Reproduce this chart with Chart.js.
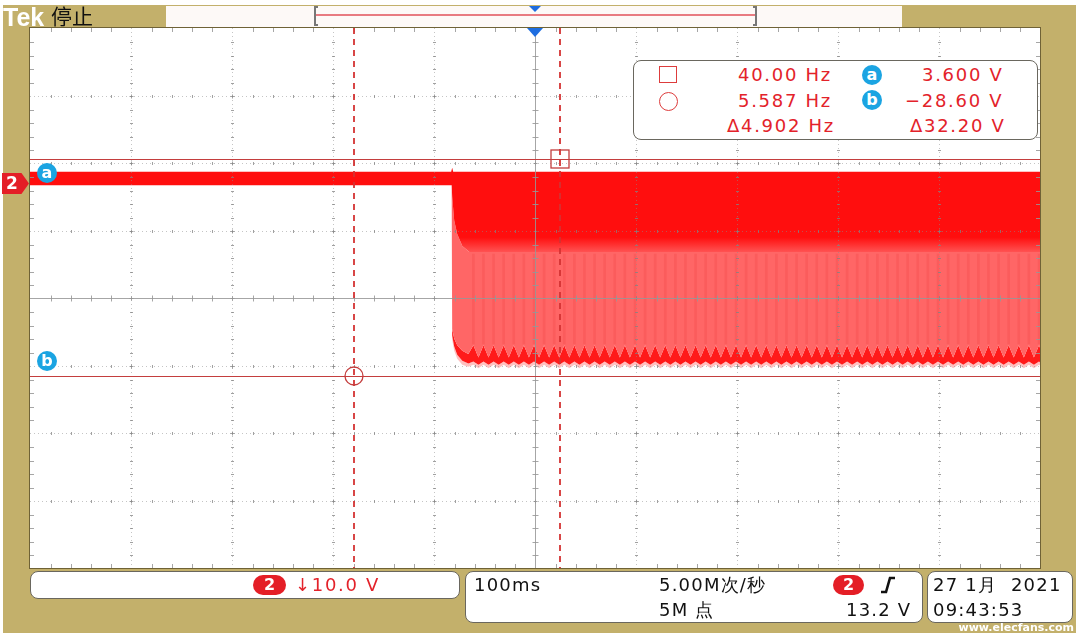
<!DOCTYPE html>
<html>
<head>
<meta charset="utf-8">
<title>Tek 停止</title>
<script src="https://cdn.jsdelivr.net/npm/chart.js@4.4.1/dist/chart.umd.min.js"></script>
<style>
  html, body { margin: 0; padding: 0; background: #fff; }
  #scope { position: relative; width: 1080px; height: 638px; overflow: hidden; font-family: "DejaVu Sans", sans-serif; }
  #scope canvas { position: absolute; left: 0; top: 0; }
  .box { position: absolute; background: #fff; border: 1.5px solid #6a675e; border-radius: 8px; box-sizing: border-box; }
  .t { position: absolute; white-space: nowrap; line-height: 1; }
  .rd { color: #e3222a; font-size: 18px; letter-spacing: 1.7px; }
  .bk { color: #111; font-size: 18px; letter-spacing: 1.2px; }
  .ball { position: absolute; width: 20px; height: 20px; border-radius: 50%; background: #1ba4e2; color: #fff; font: bold 16px/19px "DejaVu Sans", sans-serif; text-align: center; }
  .pill { position: absolute; height: 20px; background: #e41e26; color: #fff; border-radius: 10px; font: bold 16px/20px "DejaVu Sans", sans-serif; text-align: center; }
</style>
</head>
<body>
<div id="scope">
  <canvas id="c" width="1080" height="638"></canvas>

  <div class="t" style="left:3px;top:5px;font:bold 25px/1 'Liberation Sans',sans-serif;color:#fff;">Tek</div>
  <div class="t" style="left:51px;top:5px;font:21px/1 'Noto Sans CJK SC',sans-serif;color:#111;">停止</div>

  <!-- channel / cursor markers -->
  <div style="position:absolute;left:2px;top:173px;width:27px;height:21px;background:#e41e26;clip-path:polygon(0 0,72% 0,100% 50%,72% 100%,0 100%);"></div>
  <div class="t" style="left:6px;top:175px;font:bold 17px/1 'DejaVu Sans',sans-serif;color:#fff;">2</div>
  <div class="ball" style="left:37px;top:163px;">a</div>
  <div class="ball" style="left:37px;top:351px;">b</div>

  <!-- cursor readout -->
  <div class="box" style="left:633px;top:60px;width:405px;height:80px;"></div>
  <div style="position:absolute;left:659px;top:66px;width:18px;height:17px;border:1.5px solid #dd3c3c;box-sizing:border-box;"></div>
  <div style="position:absolute;left:659px;top:92px;width:19px;height:19px;border:1.5px solid #dd3c3c;border-radius:50%;box-sizing:border-box;"></div>
  <div class="t rd" style="left:738px;top:66px;">40.00 Hz</div>
  <div class="t rd" style="left:738px;top:92px;">5.587 Hz</div>
  <div class="t rd" style="left:727px;top:117px;">Δ4.902 Hz</div>
  <div class="ball" style="left:862px;top:65px;">a</div>
  <div class="ball" style="left:862px;top:90px;">b</div>
  <div class="t rd" style="left:922px;top:66px;">3.600 V</div>
  <div class="t rd" style="left:905px;top:92px;">−28.60 V</div>
  <div class="t rd" style="left:910px;top:117px;">Δ32.20 V</div>

  <!-- bottom status -->
  <div class="box" style="left:30px;top:571px;width:430px;height:28px;"></div>
  <div class="pill" style="left:253px;top:575px;width:33px;">2</div>
  <div class="t rd" style="left:295px;top:576px;">↓10.0 V</div>

  <div class="box" style="left:465px;top:571px;width:458px;height:52px;"></div>
  <div class="t bk" style="left:474px;top:576px;">100ms</div>
  <div class="t bk" style="left:659px;top:576px;">5.00M次/秒</div>
  <div class="pill" style="left:833px;top:575px;width:31px;">2</div>
  <svg style="position:absolute;left:878px;top:575px;" width="20" height="20"><path d="M3 17 L8 17 L12 3 L17 3" stroke="#111" stroke-width="2.6" fill="none"/></svg>
  <div class="t bk" style="left:659px;top:601px;">5M 点</div>
  <div class="t bk" style="left:846px;top:601px;">13.2 V</div>

  <div class="box" style="left:927px;top:571px;width:146px;height:52px;"></div>
  <div class="t bk" style="left:933px;top:576px;">27 1月&nbsp; 2021</div>
  <div class="t bk" style="left:933px;top:601px;">09:43:53</div>
  <div class="t" style="right:6px;top:622px;font:bold 11px/1 'DejaVu Sans',sans-serif;color:#fff;">www.elecfans.com</div>
</div>

<script>
// 通道2: 10 V/格, 100 ms/格, 触发点在屏幕中间
const timeTicks = [-500, -400, -300, -200, -100, 0, 100, 200, 300, 400, 500];
const voltTicks = [23, 13, 3, -7, -17, -27, -37, -47, -57];

// 光标 (□ 40.00 Hz, ○ 5.587 Hz / a 3.600 V, b -28.60 V)
const cursorT = [25, -179];
const cursorV = [3.6, -28.6];

// 波形包络 (ms, V)
const topT = [-500, -83, -82, -81, 500];
const topV = [1.7, 1.7, 2.3, 1.7, 1.7];
const denseT = [-500, -82.5, -82, -80, -77, -72, -65, 500];
const denseV = [-0.3, -0.3, -2.0, -5.5, -7.5, -9.3, -10.2, -10.2];
const onsetT = [-500, -82.5, -82, -80, -77, -72, -66];
const onsetTopV = [-0.3, -0.3, -21.6, -23.0, -24.0, -24.8, -25.3];
const onsetLowV = [-0.3, -0.3, -22.6, -24.2, -25.4, -26.3, -26.7];
const onsetFloorV = [-0.3, -0.3, -23.2, -24.8, -26.0, -26.9, -27.2];

// 纹波齿 (100 Hz)
const rippleT = [-61, -51, -41, -31, -21, -11, -1, 9, 19, 29, 39, 49, 59, 69, 79, 89, 99,
  109, 119, 129, 139, 149, 159, 169, 179, 189, 199, 209, 219, 229, 239, 249, 259, 269,
  279, 289, 299, 309, 319, 329, 339, 349, 359, 369, 379, 389, 399, 409, 419, 429, 439,
  449, 459, 469, 479, 489, 499];
const toothV = [-24.0, -25.8];
const toothLowV = [-26.4, -26.9];
const toothFloorV = [-26.9, -27.4];
const toothWidth = 5;
const fadeV = [-8, -10.8];
const stripeV = [-10.5, -23.8];

function pts(ts, vs) {
  return ts.map((t, i) => ({ x: t, y: vs[i] }));
}
function teeth(onV, pair) {
  const out = pts(onsetT, onV);
  rippleT.forEach(t => {
    out.push({ x: t, y: pair[0] });
    out.push({ x: t + toothWidth, y: pair[1] });
  });
  return out;
}

function denseFill(ctx) {
  const chart = ctx.chart;
  const ys = chart.scales.y;
  if (!chart.chartArea || !ys) return 'rgb(255,14,14)';
  const g = chart.ctx.createLinearGradient(0, ys.getPixelForValue(fadeV[0]), 0, ys.getPixelForValue(fadeV[1]));
  g.addColorStop(0, 'rgb(255,14,14)');
  g.addColorStop(1, 'rgb(255,102,102)');
  return g;
}

function hline(c, x1, x2, y) { c.beginPath(); c.moveTo(x1, y); c.lineTo(x2, y); c.stroke(); }
function vline(c, x, y1, y2) { c.beginPath(); c.moveTo(x, y1); c.lineTo(x, y2); c.stroke(); }

const scopeScreen = {
  id: 'scopeScreen',
  beforeDraw(chart) {
    const c = chart.ctx, a = chart.chartArea;
    c.save();
    c.fillStyle = '#ffffff';
    c.fillRect(0, 0, chart.width, chart.height);
    c.fillStyle = '#c3b06b';
    c.fillRect(3, 5, 1073, 628);
    c.fillStyle = '#ffffff';
    c.fillRect(a.left, a.top, a.right - a.left, a.bottom - a.top);
    c.restore();
  },
  afterDatasetsDraw(chart) {
    const c = chart.ctx, a = chart.chartArea;
    const xs = chart.scales.x, ys = chart.scales.y;
    const xp = timeTicks.map(t => Math.round(xs.getPixelForValue(t)) + 0.5);
    const yp = voltTicks.map(v => Math.round(ys.getPixelForValue(v)) + 0.5);
    const mx = [], my = [];
    for (let i = 0; i < xp.length - 1; i++)
      for (let k = 1; k < 5; k++) mx.push(Math.round(xp[i] + (xp[i + 1] - xp[i]) * k / 5) + 0.5);
    for (let i = 0; i < yp.length - 1; i++)
      for (let k = 1; k < 5; k++) my.push(Math.round(yp[i] + (yp[i + 1] - yp[i]) * k / 5) + 0.5);
    const cx = xp[5], cy = yp[4];

    c.save();
    // dotted divisions
    c.lineWidth = 1;
    c.strokeStyle = 'rgba(140,140,140,0.5)';
    c.setLineDash([1, 3]);
    xp.slice(1, -1).forEach(x => { if (x !== cx) vline(c, x, a.top, a.bottom); });
    yp.slice(1, -1).forEach(y => { if (y !== cy) hline(c, a.left, a.right, y); });
    c.setLineDash([]);
    c.strokeStyle = 'rgba(130,130,130,0.75)';
    xp.slice(1, -1).forEach(x => { if (x !== cx) my.forEach(y => hline(c, x - 1.5, x + 1.5, y)); });
    yp.slice(1, -1).forEach(y => { if (y !== cy) mx.forEach(x => vline(c, x, y - 1.5, y + 1.5)); });
    xp.slice(1, -1).forEach(x => yp.slice(1, -1).forEach(y => { hline(c, x - 2, x + 2, y); vline(c, x, y - 2, y + 2); }));
    // centre cross
    c.strokeStyle = 'rgba(150,150,150,0.85)';
    vline(c, cx, a.top, a.bottom);
    hline(c, a.left, a.right, cy);
    my.forEach(y => hline(c, cx - 3, cx + 3, y));
    mx.forEach(x => vline(c, x, cy - 3, cy + 3));
    // edge ticks
    mx.forEach(x => { vline(c, x, a.top, a.top + 4); vline(c, x, a.bottom - 4, a.bottom); });
    my.forEach(y => { hline(c, a.left, a.left + 4, y); hline(c, a.right - 4, a.right, y); });

    // cursors
    c.strokeStyle = 'rgb(196,62,62)';
    c.lineWidth = 1;
    cursorV.forEach(v => hline(c, a.left, a.right, Math.round(ys.getPixelForValue(v)) + 0.5));
    c.strokeStyle = 'rgba(212,50,50,0.9)';
    c.lineWidth = 2;
    c.setLineDash([6, 5]);
    cursorT.forEach(t => vline(c, Math.round(xs.getPixelForValue(t)), a.top, a.bottom));
    c.setLineDash([]);
    c.lineWidth = 1.3;
    c.strokeStyle = 'rgb(196,62,62)';
    const sx = Math.round(xs.getPixelForValue(cursorT[0])), sy = Math.round(ys.getPixelForValue(cursorV[0]));
    c.strokeRect(sx - 9, sy - 9, 18, 18);
    const ox = Math.round(xs.getPixelForValue(cursorT[1])), oy = Math.round(ys.getPixelForValue(cursorV[1]));
    c.beginPath(); c.arc(ox, oy, 9, 0, Math.PI * 2); c.stroke();

    // frame
    c.strokeStyle = '#6f6236';
    c.lineWidth = 1;
    c.strokeRect(a.left - 0.5, a.top - 0.5, a.right - a.left + 1, a.bottom - a.top + 1);
    c.restore();
  },
  afterDraw(chart) {
    const c = chart.ctx, a = chart.chartArea;
    const x0 = Math.round(chart.scales.x.getPixelForValue(0));
    c.save();
    c.fillStyle = '#fdf9f7';
    c.fillRect(166, 6, 736, 21);
    c.strokeStyle = '#e0505a';
    c.lineWidth = 1.5;
    hline(c, 316, 756, 15);
    c.strokeStyle = '#777';
    c.lineWidth = 2;
    [[315, 1], [756, -1]].forEach(([x, d]) => {
      c.beginPath(); c.moveTo(x + 3 * d, 7); c.lineTo(x, 7); c.lineTo(x, 25); c.lineTo(x + 3 * d, 25); c.stroke();
    });
    c.fillStyle = '#1e6de0';
    c.beginPath(); c.moveTo(x0 - 6, 6); c.lineTo(x0 + 6, 6); c.lineTo(x0, 12); c.closePath(); c.fill();
    c.beginPath(); c.moveTo(x0 - 8, a.top); c.lineTo(x0 + 8, a.top); c.lineTo(x0, a.top + 9); c.closePath(); c.fill();
    c.restore();
  }
};

const ch2 = { borderWidth: 0, borderColor: 'rgba(0,0,0,0)', pointRadius: 0, tension: 0 };

new Chart(document.getElementById('c'), {
  type: 'line',
  data: {
    datasets: [
      Object.assign({ label: 'top', data: pts(topT, topV), fill: '+1', backgroundColor: denseFill }, ch2),
      Object.assign({ label: 'dense', data: pts(denseT, denseV), fill: '+1', backgroundColor: 'rgb(255,102,102)' }, ch2),
      Object.assign({ label: 'rippleTop', data: teeth(onsetTopV, toothV), fill: '+1', backgroundColor: 'rgb(255,26,26)' }, ch2),
      Object.assign({ label: 'rippleLow', data: teeth(onsetLowV, toothLowV), fill: '+1', backgroundColor: 'rgba(255,150,150,0.6)' }, ch2),
      Object.assign({ label: 'rippleFloor', data: teeth(onsetFloorV, toothFloorV), fill: false }, ch2),
      {
        label: 'stripes', type: 'bar', order: -1, grouped: false,
        data: rippleT.map(t => ({ x: t, y: stripeV })),
        barThickness: 2, backgroundColor: 'rgba(235,50,50,0.18)', borderWidth: 0
      }
    ]
  },
  options: {
    responsive: false,
    animation: false,
    devicePixelRatio: 1,
    events: [],
    layout: { padding: { left: 30, top: 28, right: 40, bottom: 70 } },
    plugins: { legend: { display: false }, tooltip: { enabled: false } },
    scales: {
      x: { type: 'linear', min: timeTicks[0], max: timeTicks[timeTicks.length - 1], offset: false, display: false },
      y: { type: 'linear', min: voltTicks[voltTicks.length - 1], max: voltTicks[0], display: false }
    }
  },
  plugins: [scopeScreen]
});
</script>
</body>
</html>
